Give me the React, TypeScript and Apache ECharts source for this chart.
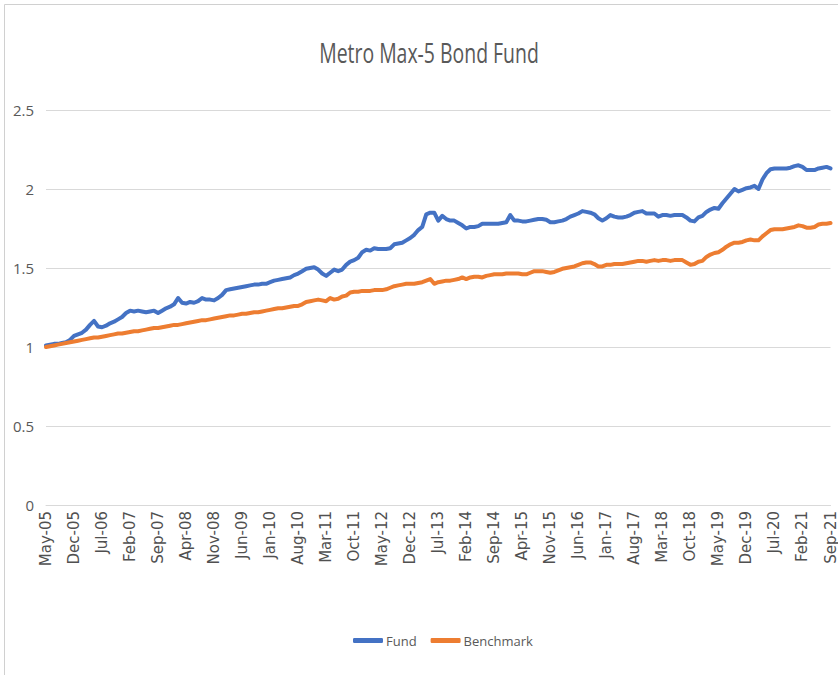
import React, { useEffect, useRef } from "react";
import * as echarts from "echarts";

const MONTHS = ["Jan", "Feb", "Mar", "Apr", "May", "Jun", "Jul", "Aug", "Sep", "Oct", "Nov", "Dec"];
const START_YEAR = 2005;
const START_MONTH = 4; // May
const MONTH_COUNT = 197; // May-05 .. Sep-21

const categories: string[] = [];
for (let k = 0; k < MONTH_COUNT; k++) {
  const m = (START_MONTH + k) % 12;
  const y = START_YEAR + Math.floor((START_MONTH + k) / 12);
  categories.push(MONTHS[m] + "-" + String(y % 100).padStart(2, "0"));
}

const fund: number[] = [
  1.01, 1.015, 1.02, 1.02, 1.025, 1.03, 1.045, 1.07, 1.08, 1.09,
  1.11, 1.14, 1.165, 1.13, 1.125, 1.135, 1.15, 1.16, 1.175, 1.19,
  1.215, 1.23, 1.225, 1.23, 1.225, 1.22, 1.225, 1.23, 1.215, 1.23,
  1.245, 1.255, 1.27, 1.31, 1.28, 1.275, 1.285, 1.28, 1.29, 1.31,
  1.3, 1.3, 1.295, 1.31, 1.33, 1.36, 1.365, 1.37, 1.375, 1.38,
  1.385, 1.39, 1.395, 1.395, 1.4, 1.4, 1.41, 1.42, 1.425, 1.43,
  1.435, 1.44, 1.455, 1.465, 1.48, 1.495, 1.5, 1.505, 1.49, 1.465,
  1.45, 1.47, 1.49, 1.48, 1.49, 1.52, 1.54, 1.55, 1.565, 1.6,
  1.615, 1.61, 1.625, 1.62, 1.62, 1.62, 1.625, 1.65, 1.655, 1.66,
  1.675, 1.69, 1.71, 1.74, 1.76, 1.84, 1.85, 1.85, 1.8, 1.83,
  1.81, 1.8, 1.8, 1.785, 1.77, 1.75, 1.76, 1.76, 1.765, 1.78,
  1.78, 1.78, 1.78, 1.78, 1.785, 1.79, 1.835, 1.8, 1.8, 1.795,
  1.795, 1.8, 1.805, 1.81, 1.81, 1.805, 1.79, 1.79, 1.795, 1.8,
  1.81, 1.825, 1.835, 1.845, 1.86, 1.855, 1.85, 1.84, 1.815, 1.8,
  1.815, 1.835, 1.825, 1.82, 1.82, 1.825, 1.835, 1.85, 1.855, 1.86,
  1.845, 1.845, 1.845, 1.825, 1.835, 1.835, 1.83, 1.835, 1.835, 1.835,
  1.82, 1.8, 1.795, 1.82, 1.83, 1.855, 1.87, 1.88, 1.875, 1.91,
  1.94, 1.97, 2.0, 1.985, 1.995, 2.005, 2.01, 2.02, 2.0, 2.06,
  2.1, 2.125, 2.13, 2.13, 2.13, 2.13, 2.135, 2.145, 2.15, 2.14,
  2.12, 2.12, 2.12, 2.13, 2.135, 2.14, 2.13,
];

const benchmark: number[] = [
  1.0, 1.005, 1.01, 1.015, 1.02, 1.025, 1.03, 1.035, 1.04, 1.045,
  1.05, 1.055, 1.06, 1.06, 1.065, 1.07, 1.075, 1.08, 1.085, 1.085,
  1.09, 1.095, 1.1, 1.1, 1.105, 1.11, 1.115, 1.12, 1.12, 1.125,
  1.13, 1.135, 1.14, 1.14, 1.145, 1.15, 1.155, 1.16, 1.165, 1.17,
  1.17, 1.175, 1.18, 1.185, 1.19, 1.195, 1.2, 1.2, 1.205, 1.21,
  1.21, 1.215, 1.22, 1.22, 1.225, 1.23, 1.235, 1.24, 1.245, 1.245,
  1.25, 1.255, 1.26, 1.26, 1.27, 1.285, 1.29, 1.295, 1.3, 1.295,
  1.29, 1.31, 1.3, 1.305, 1.32, 1.325, 1.345, 1.35, 1.35, 1.355,
  1.355, 1.355, 1.36, 1.36, 1.36, 1.365, 1.375, 1.385, 1.39, 1.395,
  1.4, 1.4, 1.4, 1.405, 1.41, 1.42, 1.43, 1.4, 1.41, 1.415,
  1.42, 1.42, 1.425, 1.43, 1.44, 1.43, 1.44, 1.445, 1.445, 1.44,
  1.45, 1.455, 1.46, 1.46, 1.46, 1.465, 1.465, 1.465, 1.465, 1.46,
  1.46, 1.47, 1.48, 1.48, 1.48, 1.475, 1.47, 1.475, 1.485, 1.495,
  1.5, 1.505, 1.51, 1.52, 1.53, 1.535, 1.535, 1.525, 1.51, 1.51,
  1.52, 1.52, 1.525, 1.525, 1.525, 1.53, 1.535, 1.54, 1.545, 1.545,
  1.54, 1.545, 1.55, 1.545, 1.55, 1.55, 1.545, 1.55, 1.55, 1.55,
  1.535, 1.52, 1.525, 1.54, 1.545, 1.57, 1.585, 1.595, 1.6, 1.615,
  1.635, 1.65, 1.66, 1.66, 1.665, 1.675, 1.68, 1.675, 1.675, 1.7,
  1.72, 1.74, 1.745, 1.745, 1.745, 1.75, 1.755, 1.76, 1.77, 1.765,
  1.755, 1.755, 1.76, 1.775, 1.78, 1.78, 1.785,
];

const TITLE = "Metro Max-5 Bond Fund";
const SERIES_NAMES = ["Fund", "Benchmark"];
const COLORS = ["#4472C4", "#ED7D31"];
const FONT = "'Open Sans', sans-serif";

export default function App() {
  const ref = useRef<HTMLDivElement>(null);
  useEffect(() => {
    document.body.style.margin = "0";
    if (!ref.current) return;
    const chart = echarts.init(ref.current, null, { renderer: "svg" });
    chart.setOption({
      animation: false,
      backgroundColor: "#ffffff",
      graphic: [
        {
          type: "rect",
          shape: { x: 4.5, y: 4.5, width: 900, height: 800 },
          style: { fill: "none", stroke: "#d0d0d0", lineWidth: 1 },
          silent: true,
        },
        {
          type: "text",
          x: 429,
          y: 53,
          scaleX: 0.72,
          style: {
            text: TITLE,
            align: "center",
            verticalAlign: "middle",
            fontFamily: FONT,
            fontSize: 27,
            fill: "#595959",
          },
          silent: true,
        },
      ],
      legend: {
        data: SERIES_NAMES,
        left: 348,
        top: 629,
        icon: "roundRect",
        itemWidth: 30,
        itemHeight: 5,
        itemGap: 14,
        textStyle: { fontFamily: FONT, fontSize: 13, color: "#595959", padding: [0, 0, 0, -2] },
      },
      grid: { left: 46, right: 5, top: 110, bottom: 170, containLabel: false },
      xAxis: {
        type: "category",
        data: categories,
        boundaryGap: false,
        axisLine: { show: true, lineStyle: { color: "#d9d9d9" } },
        axisTick: { show: false },
        axisLabel: {
          interval: 6,
          rotate: 90,
          margin: 6,
          fontFamily: "'DejaVu Sans', sans-serif",
          fontSize: 15,
          color: "#505050",
        },
      },
      yAxis: {
        type: "value",
        min: 0,
        max: 2.5,
        interval: 0.5,
        axisLine: { show: false },
        axisTick: { show: false },
        splitLine: { lineStyle: { color: "#d9d9d9" } },
        axisLabel: { fontFamily: FONT, fontSize: 15, color: "#595959", margin: 12 },
      },
      series: [
        {
          name: SERIES_NAMES[0],
          type: "line",
          data: fund,
          symbol: "none",
          lineStyle: { color: COLORS[0], width: 4, join: "round", cap: "round" },
          itemStyle: { color: COLORS[0] },
        },
        {
          name: SERIES_NAMES[1],
          type: "line",
          data: benchmark,
          symbol: "none",
          lineStyle: { color: COLORS[1], width: 4, join: "round", cap: "round" },
          itemStyle: { color: COLORS[1] },
        },
      ],
    });
    return () => chart.dispose();
  }, []);
  return <div ref={ref} style={{ width: 838, height: 675 }} />;
}
